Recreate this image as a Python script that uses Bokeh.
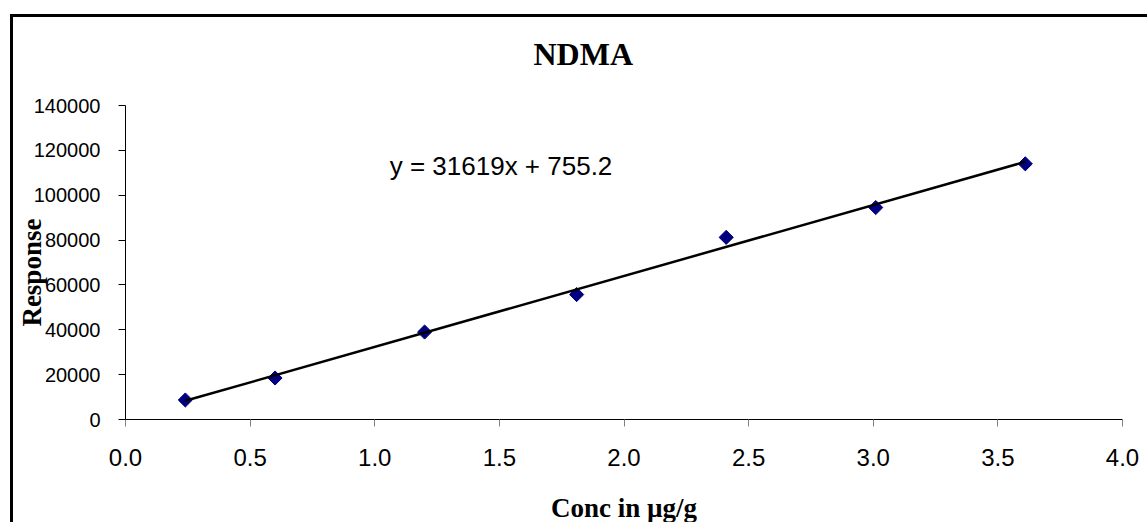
import numpy as np
from bokeh.plotting import figure
from bokeh.models import Label, Title, FixedTicker, NumeralTickFormatter, Range1d
from bokeh.embed import file_html
from bokeh.resources import INLINE

# ---- data ----
conc = [0.24, 0.60, 1.20, 1.81, 2.41, 3.01, 3.61]
response = [8700, 18500, 39000, 55700, 81200, 94500, 114000]
slope = 31619
intercept = 755.2
equation = "y = 31619x + 755.2"
x_ticks = [0.0, 0.5, 1.0, 1.5, 2.0, 2.5, 3.0, 3.5, 4.0]
y_ticks = [0, 20000, 40000, 60000, 80000, 100000, 120000, 140000]

W, H = 1134, 505
p = figure(width=W, height=H, output_backend="svg", toolbar_location=None,
           x_range=Range1d(0, 4), y_range=Range1d(0, 140000),
           min_border_left=110, min_border_right=28,
           min_border_top=88, min_border_bottom=H - 399)
p.styles = {"border-top": "3px solid black", "border-left": "3px solid black",
            "box-sizing": "content-box",
            "margin-top": "14px", "margin-left": "10px", "margin-bottom": "-10px"}
p.background_fill_color = "white"
p.border_fill_color = "white"
p.outline_line_color = None
p.grid.visible = False

# title (an empty second line lifts it away from the plot area)
t = Title(text="NDMA\n", align="left", offset=408, standoff=6, vertical_align="bottom",
          text_font="Liberation Serif", text_font_size="32px", text_line_height=0.84,
          text_font_style="bold", text_color="black")
p.add_layout(t, "above")
p.title.visible = False

# x axis
xa = p.xaxis[0]
xa.ticker = FixedTicker(ticks=x_ticks)
xa.formatter = NumeralTickFormatter(format="0.0")
xa.minor_tick_line_color = None
xa.major_tick_in = 0
xa.major_tick_out = 7
xa.major_tick_line_color = "#808080"
xa.axis_line_color = "black"
xa.major_label_text_font = "Liberation Sans"
xa.major_label_text_font_size = "24px"
xa.major_label_text_color = "black"
xa.major_label_standoff = 22
xa.axis_label = "Conc in µg/g"
xa.axis_label_text_font = "Liberation Serif"
xa.axis_label_text_font_style = "bold"
xa.axis_label_text_font_size = "27px"
xa.axis_label_text_color = "black"
xa.axis_label_standoff = 24

# y axis
ya = p.yaxis[0]
ya.ticker = FixedTicker(ticks=y_ticks)
ya.formatter = NumeralTickFormatter(format="0")
ya.minor_tick_line_color = None
ya.major_tick_in = 0
ya.major_tick_out = 7
ya.major_tick_line_color = "black"
ya.axis_line_color = "black"
ya.major_label_text_font = "Liberation Sans"
ya.major_label_text_font_size = "20px"
ya.major_label_text_color = "black"
ya.major_label_standoff = 18
# trailing no-break spaces nudge the rotated title slightly below the frame centre
ya.axis_label = "Response\u00a0\u00a0\u00a0"
ya.axis_label_text_font = "Liberation Serif"
ya.axis_label_text_font_style = "bold"
ya.axis_label_text_font_size = "27px"
ya.axis_label_text_color = "black"
ya.axis_label_standoff = -16

# data points and trend line
p.scatter(conc, response, marker="square", size=10, angle=np.pi / 4,
          fill_color="#000080", line_color="#000080")
xs = np.array([min(conc), max(conc)])
p.line(xs, slope * xs + intercept, line_color="black", line_width=2.5)

p.add_layout(Label(x=1.06, y=113000, text=equation,
                   text_font="Liberation Sans", text_font_size="26px",
                   text_color="black", text_baseline="alphabetic"))

open("out.html", "w").write(file_html(p, INLINE))
